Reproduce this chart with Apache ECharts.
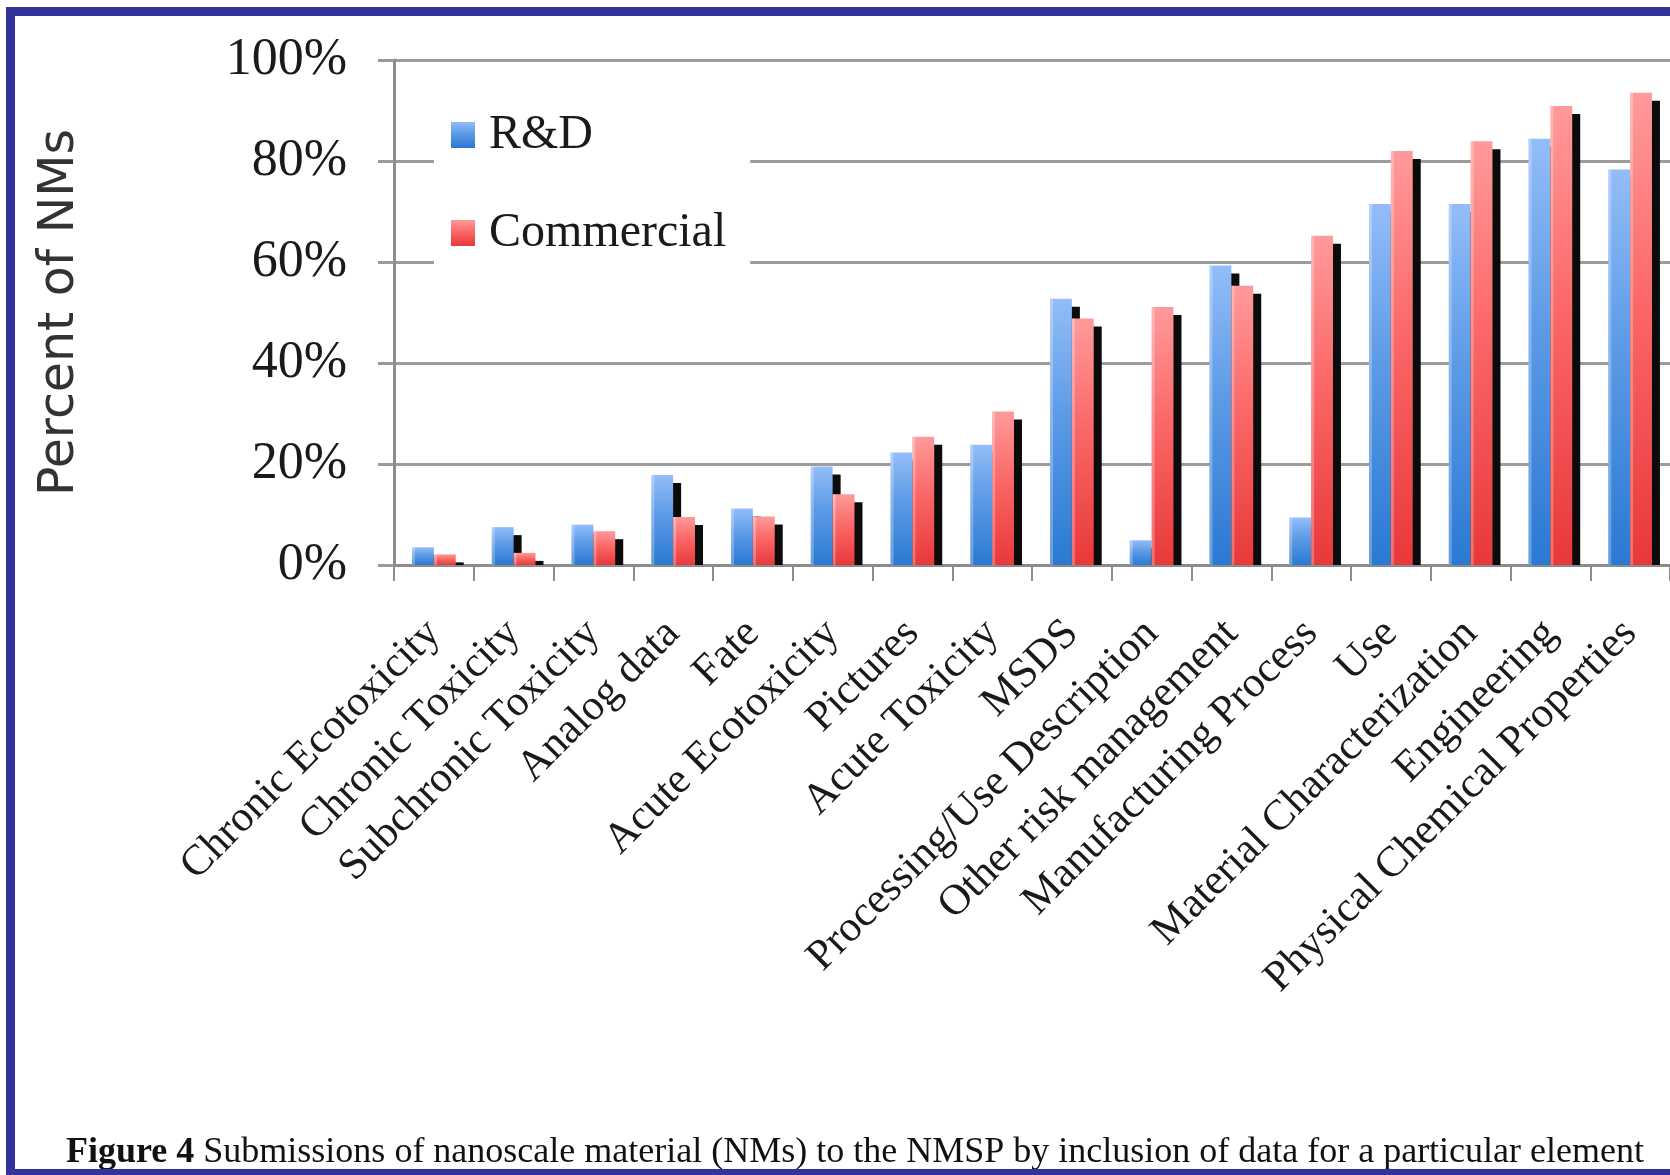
<!DOCTYPE html>
<html>
<head>
<meta charset="utf-8">
<script src="https://cdn.jsdelivr.net/npm/echarts@6/dist/echarts.min.js"></script>
<style>
  html, body { margin: 0; padding: 0; background: #ffffff; }
  #chart { width: 1670px; height: 1175px; }
</style>
</head>
<body>
<div id="chart"></div>
<script>
// Data elements submitted with nanoscale materials, ordered by share
const categories = [
  'Chronic Ecotoxicity', 'Chronic Toxicity', 'Subchronic Toxicity', 'Analog data',
  'Fate', 'Acute Ecotoxicity', 'Pictures', 'Acute Toxicity', 'MSDS',
  'Processing/Use Description', 'Other risk management', 'Manufacturing Process',
  'Use', 'Material Characterization', 'Engineering', 'Physical Chemical Properties'
];
// Percent of NMs that included each element
const rdValues = [3.5, 7.5, 8.0, 17.8, 11.2, 19.5, 22.3, 23.8, 52.7, 4.9, 59.3, 9.4, 71.5, 71.5, 84.4, 78.3];
const commercialValues = [2.1, 2.4, 6.7, 9.5, 9.6, 14.0, 25.4, 30.4, 48.8, 51.1, 55.3, 65.2, 82.0, 83.9, 90.9, 93.5];
const yTickValues = [0, 20, 40, 60, 80, 100];
const seriesNames = ['R&D', 'Commercial'];

const SERIF = '"Liberation Serif", "Times New Roman", serif';
const BAR_RATIO = 0.274;   // share of a category band taken by each bar
const SHADOW_DX = 8;
const SHADOW_DY = 8;

function vGradient(top, mid, bottom) {
  return {
    type: 'linear', x: 0, y: 0, x2: 0, y2: 1,
    colorStops: [
      { offset: 0, color: top },
      { offset: 0.45, color: mid },
      { offset: 1, color: bottom }
    ]
  };
}
const blueFill = vGradient('#93bdf8', '#5c9ae6', '#2a79d3');
const redFill = vGradient('#ff9a9a', '#fb6767', '#e8383a');

// Bar with a hard drop shadow that stops at the baseline
function makeRenderer(side, fill) {
  return function (params, api) {
    const idx = api.value(0);
    const val = api.value(1);
    const top = api.coord([idx, val]);
    const base = api.coord([idx, 0]);
    const band = api.size([1, 0])[0];
    const w = band * BAR_RATIO;
    const x = side < 0 ? top[0] - w : top[0];
    const h = base[1] - top[1];
    const children = [];
    if (h > SHADOW_DY) {
      children.push({
        type: 'rect',
        shape: { x: x + SHADOW_DX, y: top[1] + SHADOW_DY, width: w, height: h - SHADOW_DY },
        style: { fill: '#0b0b0b' }
      });
    }
    children.push({
      type: 'rect',
      shape: { x: x, y: top[1], width: w, height: h },
      style: { fill: fill }
    });
    children.push({
      type: 'rect',
      shape: { x: x, y: top[1], width: 3, height: h },
      style: { fill: 'rgba(255,255,255,0.28)' }
    });
    return { type: 'group', children: children };
  };
}

const chart = echarts.init(document.getElementById('chart'), null, { renderer: 'canvas' });

chart.setOption({
  backgroundColor: '#ffffff',
  animation: false,
  title: {
    left: 66,
    top: 1133,
    padding: 0,
    text: '{b|Figure 4} Submissions of nanoscale material (NMs) to the NMSP by inclusion of data for a particular element',
    textStyle: {
      fontFamily: SERIF,
      fontSize: 36,
      fontWeight: 'normal',
      color: '#111111',
      lineHeight: 40,
      rich: {
        b: { fontFamily: SERIF, fontSize: 36, fontWeight: 'bold', color: '#111111', lineHeight: 40 }
      }
    }
  },
  legend: {
    orient: 'vertical',
    left: 434,
    top: 95,
    padding: [15, 24, 15, 17],
    backgroundColor: '#ffffff',
    itemWidth: 24,
    itemHeight: 26,
    itemGap: 48,
    icon: 'rect',
    data: [
      { name: seriesNames[0], itemStyle: { color: blueFill } },
      { name: seriesNames[1], itemStyle: { color: redFill } }
    ],
    textStyle: {
      fontFamily: SERIF,
      fontSize: 48,
      lineHeight: 50,
      color: '#1a1a1a',
      padding: [0, 0, 0, 9]
    }
  },
  grid: { left: 394, right: -9, top: 60, bottom: 610, containLabel: false },
  xAxis: {
    type: 'category',
    data: categories,
    boundaryGap: true,
    axisLine: { show: true, lineStyle: { color: '#8c8c8c', width: 3 } },
    axisTick: { show: true, length: 16, lineStyle: { color: '#8c8c8c', width: 2 } },
    axisLabel: {
      interval: 0,
      rotate: 45,
      margin: 62,
      align: 'right',
      verticalAlign: 'middle',
      fontFamily: SERIF,
      fontSize: 43,
      color: '#1a1a1a'
    },
    splitLine: { show: false }
  },
  yAxis: {
    type: 'value',
    min: yTickValues[0],
    max: yTickValues[yTickValues.length - 1],
    interval: yTickValues[1] - yTickValues[0],
    name: 'Percent of NMs',
    nameLocation: 'middle',
    nameGap: 309,
    nameTextStyle: {
      fontFamily: '"DejaVu Sans", "Noto Sans", sans-serif',
      fontSize: 49,
      color: '#333333'
    },
    axisLine: { show: true, lineStyle: { color: '#8c8c8c', width: 3 } },
    axisTick: { show: true, length: 16, lineStyle: { color: '#9a9a9a', width: 3 } },
    axisLabel: {
      margin: 47,
      fontFamily: SERIF,
      fontSize: 52,
      color: '#1a1a1a',
      formatter: '{value}%'
    },
    splitLine: { show: true, lineStyle: { color: '#9c9c9c', width: 3 } }
  },
  series: [
    {
      name: seriesNames[0],
      type: 'custom',
      itemStyle: { color: blueFill },
      encode: { x: 0, y: 1 },
      data: rdValues.map((v, i) => [i, v]),
      renderItem: makeRenderer(-1, blueFill)
    },
    {
      name: seriesNames[1],
      type: 'custom',
      itemStyle: { color: redFill },
      encode: { x: 0, y: 1 },
      data: commercialValues.map((v, i) => [i, v]),
      renderItem: makeRenderer(1, redFill)
    }
  ],
  graphic: [
    { type: 'rect', z: 100, shape: { x: 6, y: 7, width: 9, height: 1168 }, style: { fill: '#333399' } },
    { type: 'rect', z: 100, shape: { x: 6, y: 7, width: 1664, height: 9 }, style: { fill: '#333399' } },
    { type: 'rect', z: 100, shape: { x: 6, y: 1169, width: 1664, height: 6 }, style: { fill: '#333399' } }
  ]
});
</script>
</body>
</html>
